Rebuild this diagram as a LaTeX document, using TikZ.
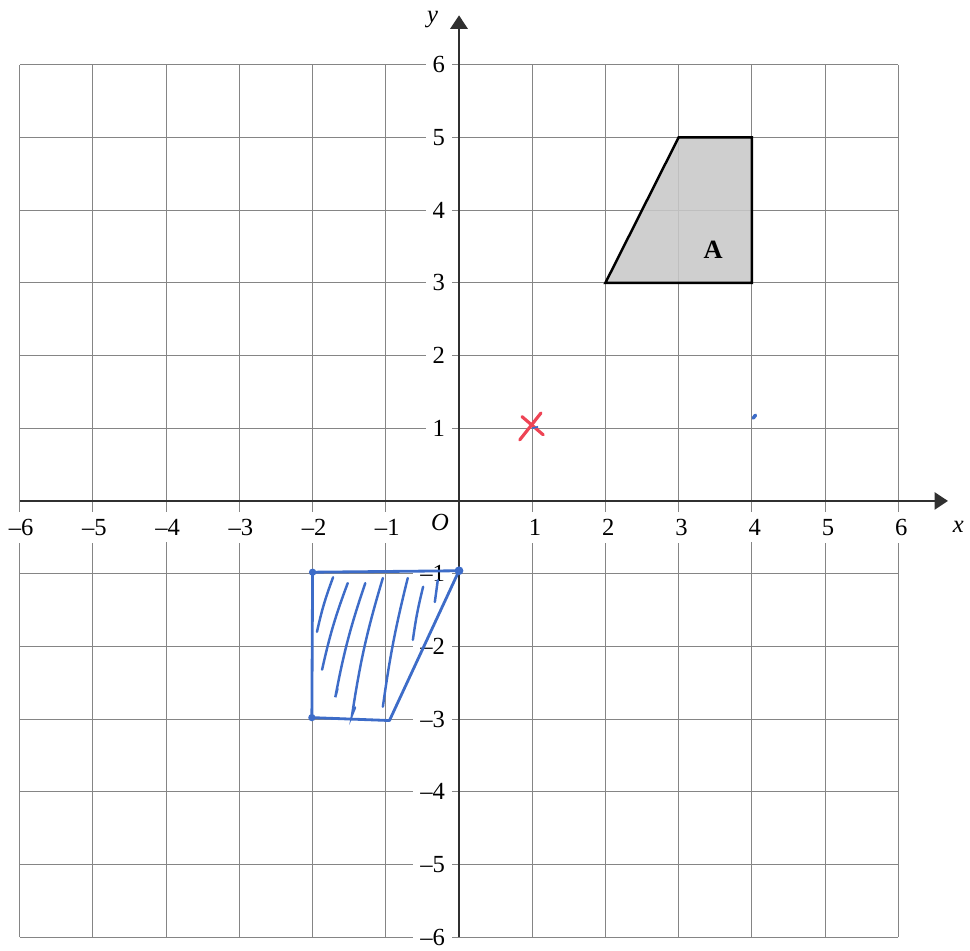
\documentclass[tikz,border=0pt]{standalone}
\usepackage{fontspec}
\setmainfont{Liberation Serif}
\usetikzlibrary{arrows.meta}
\definecolor{gridc}{HTML}{858585}
\definecolor{axisc}{HTML}{303030}
\definecolor{penblue}{HTML}{3D6CC8}
\definecolor{penred}{HTML}{EE4455}
\definecolor{shadeA}{HTML}{C8C8C8}
\begin{document}
\begin{tikzpicture}[x=1.464cm,y=1.454cm, font=\fontsize{14}{16}\selectfont,
  gridline/.style={gridc, line width=0.6pt},
  axisline/.style={axisc, line width=1.6pt, -{Triangle[length=0.27cm,width=0.34cm]}},
  ylab/.style={anchor=east, fill=white, inner xsep=4pt, inner ysep=2pt},
  xlab/.style={anchor=north, fill=white, inner xsep=2pt, inner ysep=4pt},
  pen/.style={penblue, line width=1.6pt, line cap=round, line join=round},
  hatch/.style={penblue, line width=1.4pt, line cap=round},
  crossline/.style={penred, line width=1.8pt, line cap=round}]
\useasboundingbox (-6.27,-6.18) rectangle (6.98,6.89);
% grid
\foreach \k in {-6,...,6} {
  \draw[gridline] (\k,-6) -- (\k,6);
  \draw[gridline] (-6,\k) -- (6,\k);
}
% tick labels
\foreach \i in {1,...,6} {
  \node[ylab] (yp\i) at (-0.09,\i) {\i};
  \node[ylab] (yn\i) at (-0.09,-\i) {–\i};
  \node[xlab] (xp\i) at (\i+0.04,-0.15) {\i};
  \node[xlab] (xn\i) at (-\i+0.02,-0.15) {–\i};
}
% axes
\coordinate (xs) at (-6,0);
\coordinate (xe) at (6.68,0);
\coordinate (ys) at (0,-6);
\coordinate (ye) at (0,6.68);
\draw[axisline] (ys) -- (ye);
\draw[axisline] (xs) -- (xe);
\node (xl) at (6.82,-0.36) {\itshape x};
\node (yl) at (-0.36,6.62) {\itshape y};
\node (ol) at (-0.26,-0.29) {\itshape O};
% shape A
\coordinate (a1) at (2,3);
\coordinate (a2) at (3,5);
\coordinate (a3) at (4,5);
\coordinate (a4) at (4,3);
\fill[shadeA, fill opacity=0.88] (a1) -- (a2) -- (a3) -- (a4) -- cycle;
\draw[black, line width=1.4pt, line join=miter] (a1) -- (a2) -- (a3) -- (a4) -- cycle;
\node[font=\fontsize{15}{17}\selectfont\bfseries] (labA) at (3.47,3.45) {A};
% red cross
\draw[crossline] (0.83,0.84) -- (1.12,1.21);
\draw[crossline] (0.86,1.16) -- (1.15,0.91);
\draw[penblue, line width=1pt] (1.0,1.0) -- (1.08,1.02);
% blue dot
\draw[penblue, line width=2pt, line cap=round] (4.02,1.14) -- (4.05,1.18);
% blue shape
\coordinate (b1) at (-2.0,-0.98);
\coordinate (b2) at (0.0,-0.96);
\coordinate (b3) at (-0.95,-3.02);
\coordinate (b4) at (-2.01,-2.98);
\draw[pen] (b1) -- (b2) -- (b3) -- (b4) -- cycle;
\fill[penblue] (b1) circle (0.05);
\fill[penblue] (b2) circle (0.06);
\fill[penblue] (b4) circle (0.05);
% hatching
\draw[hatch] (-1.72,-1.05) to[bend right=4] (-1.94,-1.80);
\draw[hatch] (-1.52,-1.13) to[bend right=4] (-1.87,-2.32);
\draw[hatch] (-1.28,-1.13) to[bend right=4] (-1.69,-2.70) -- (-1.66,-2.58);
\draw[hatch] (-1.04,-1.06) to[bend right=4] (-1.46,-2.94) -- (-1.42,-2.84);
\draw[hatch] (-0.70,-1.06) to[bend right=3] (-1.04,-2.83);
\draw[hatch] (-0.49,-1.18) to[bend right=3] (-0.63,-1.91);
\draw[hatch] (-0.29,-1.09) -- (-0.33,-1.39);
\end{tikzpicture}
\end{document}
